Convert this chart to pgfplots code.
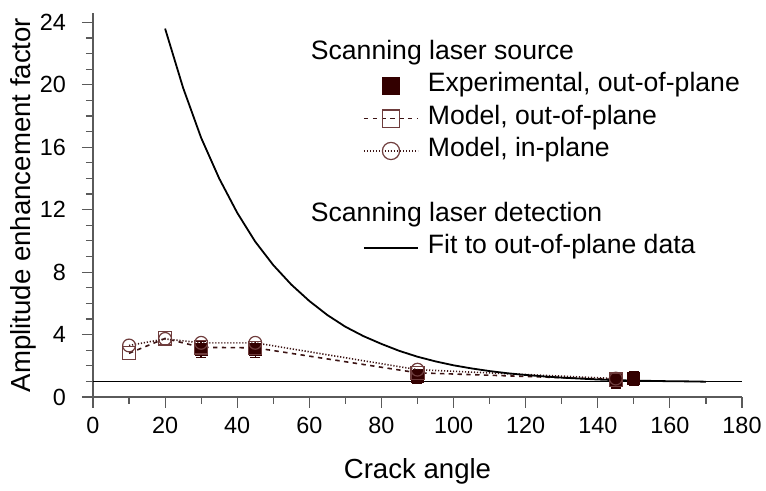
\documentclass[border=0pt]{standalone}
\usepackage{pgfplots}
\pgfplotsset{compat=1.18}
\usepackage{fontspec}
\setmainfont{Liberation Sans}
\definecolor{expc}{RGB}{51,0,0}
\definecolor{modc}{RGB}{110,60,60}
\definecolor{linc}{RGB}{60,20,20}
\definecolor{axc}{RGB}{90,90,90}
\pgfplotsset{
  widelegend/.style={legend image code/.code={\draw[mark repeat=2,mark phase=2,##1] plot coordinates {(0pt,0pt)(13.5pt,0pt)(27pt,0pt)};}},
  explegend/.style={legend image code/.code={\draw[##1] plot coordinates {(13.5pt,0pt)};}},
}
\begin{document}
\begin{tikzpicture}
\begin{axis}[name=ax, scale only axis, width=324.5pt, height=192pt,
  xmin=0, xmax=180, ymin=0, ymax=24.6,
  axis x line=bottom, axis y line=left,
  axis line style={-, axc, line width=0.6pt},
  xtick={0,20,...,180}, minor x tick num=1,
  ytick={0,4,...,24}, minor y tick num=3,
  tick align=outside, major tick length=5.5pt, minor tick length=3.5pt,
  every tick/.style={axc, line width=0.6pt},
  ticklabel style={font=\fontsize{11.7}{13}\selectfont},
  xticklabel style={yshift=-1pt},
  yticklabel style={xshift=-4.5pt},
  /pgf/number format/assume math mode=true,
  xlabel={Crack angle}, ylabel={Amplitude enhancement factor},
  label style={font=\fontsize{13.8}{16}\selectfont},
  xlabel style={yshift=-5.5pt},
  ylabel style={yshift=-5pt},
  legend cell align=left,
  widelegend,
  legend image post style={mark size=4.3pt},
  legend style={at={(axis cs:74.8,23.05)}, anchor=north west, draw=none, fill=none,
    font=\fontsize{13.3}{15}\selectfont, row sep=0pt, inner sep=0pt,
    /tikz/every odd column/.append style={column sep=2.5pt},
    nodes={inner ysep=0pt, text height=11pt, text depth=5.2pt}},
]
\addplot[black, line width=0.7pt, forget plot] coordinates {(0,1) (180,1)};

\addlegendimage{empty legend}
\addlegendentry{\hspace*{-58.5pt}Scanning laser source}

\addplot[only marks, mark=square*, mark size=3pt, color=expc, explegend,
  error bars/.cd, y dir=both, y explicit,
  error bar style={expc, line width=0.7pt},
  error mark options={rotate=90, expc, mark size=2.5pt, line width=0.7pt}]
  coordinates {
  (30,3.05) +- (0,0.52)
  (45,3.05) +- (0,0.52)
  (90,1.32) +- (0,0.45)
  (145,1.05) +- (0,0.48)
  (150,1.2) +- (0,0.45)
  };
\addlegendentry{Experimental, out-of-plane}

\addplot[linc, line width=0.8pt, dash pattern=on 2.2pt off 2.2pt,
  mark=square, mark size=3.3pt, mark options={solid, draw=modc, line width=0.6pt}]
  coordinates {(10,2.8) (20,3.75) (30,3.18) (45,3.15) (90,1.55) (145,1.12)};
\addlegendentry{Model, out-of-plane}

\addplot[linc, line width=0.8pt, dash pattern=on 0.6pt off 0.9pt,
  mark=o, mark size=3.2pt, mark options={solid, draw=modc, line width=0.6pt}]
  coordinates {(10,3.3) (20,3.72) (30,3.47) (45,3.47) (90,1.75) (145,1.18)};
\addlegendentry{Model, in-plane}

\addlegendimage{empty legend}
\addlegendentry{}
\addlegendimage{empty legend}
\addlegendentry{\hspace*{-58.5pt}Scanning laser detection}

\addplot[black, line width=0.9pt] coordinates {
 (20,23.6) (25,19.8) (30,16.6) (35,14.0) (40,11.8) (45,9.95) (50,8.45)
 (55,7.2) (60,6.15) (65,5.25) (70,4.5) (75,3.9) (80,3.4) (85,2.95)
 (90,2.58) (95,2.28) (100,2.03) (105,1.83) (110,1.66) (115,1.52)
 (120,1.41) (125,1.32) (130,1.24) (135,1.18) (140,1.12) (145,1.08)
 (150,1.05) (155,1.03) (160,1.01) (165,1.0) (170,0.98)};
\addlegendentry{Fit to out-of-plane data}
\end{axis}
\pgfresetboundingbox
\path[use as bounding box] ([xshift=-46.5pt,yshift=-47pt]ax.south west) rectangle ([xshift=12pt,yshift=6.5pt]ax.north east);
\end{tikzpicture}
\end{document}
